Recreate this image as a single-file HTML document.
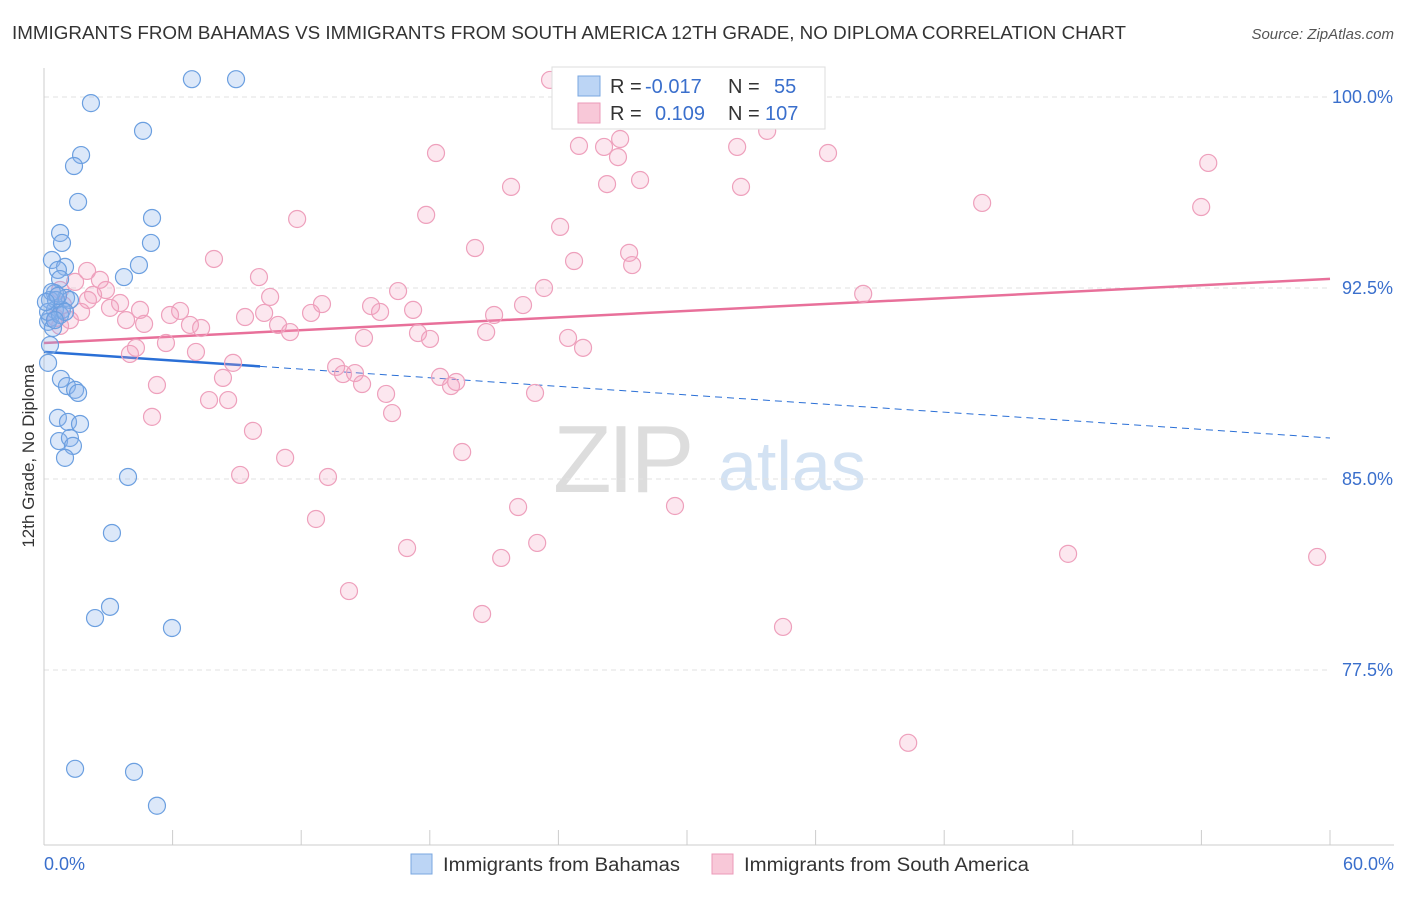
<!DOCTYPE html>
<html><head><meta charset="utf-8"><style>
body{margin:0;background:#fff;font-family:"Liberation Sans",sans-serif;}
svg text{font-family:"Liberation Sans",sans-serif;}
</style></head><body>
<svg id="chart" width="1406" height="892" viewBox="0 0 1406 892" xmlns="http://www.w3.org/2000/svg">
<text x="12" y="39" font-size="18" fill="#333" textLength="1114" lengthAdjust="spacingAndGlyphs">IMMIGRANTS FROM BAHAMAS VS IMMIGRANTS FROM SOUTH AMERICA 12TH GRADE, NO DIPLOMA CORRELATION CHART</text>
<text x="1394" y="39" font-size="15" fill="#555" text-anchor="end" font-style="italic">Source: ZipAtlas.com</text>
<g>
<text x="553" y="492" font-size="96" fill="#ddd" font-family="Liberation Serif" letter-spacing="-4">ZIP</text>
<text x="718" y="490" font-size="70" fill="#d3e2f3">atlas</text>
</g>
<g id="grid"></g>
<g id="axes"></g>
<g id="trends"></g>
<g id="dots"></g>
<text transform="translate(34,456) rotate(-90)" font-size="17" fill="#333" text-anchor="middle">12th Grade, No Diploma</text>
<text x="44" y="870" font-size="18" fill="#3a6fcc">0.0%</text>
<text x="1394" y="870" font-size="18" fill="#3a6fcc" text-anchor="end">60.0%</text>
<g>
<rect x="552" y="67" width="273" height="62" fill="#fff" stroke="#ddd"/>
<rect x="578" y="76" width="22" height="20" fill="#bcd5f5" stroke="#7aa7e0"/>
<rect x="578" y="103" width="22" height="20" fill="#f8c8d8" stroke="#eb9ab8"/>
<text x="610" y="93" font-size="20" fill="#333">R =</text>
<text x="645" y="93" font-size="20" fill="#3a6fcc">-0.017</text>
<text x="728" y="93" font-size="20" fill="#333">N =</text>
<text x="774" y="93" font-size="20" fill="#3a6fcc">55</text>
<text x="610" y="120" font-size="20" fill="#333">R =</text>
<text x="655" y="120" font-size="20" fill="#3a6fcc">0.109</text>
<text x="728" y="120" font-size="20" fill="#333">N =</text>
<text x="765" y="120" font-size="20" fill="#3a6fcc">107</text>
</g>
<g>
<rect x="411" y="854" width="21" height="20" fill="#bcd5f5" stroke="#7aa7e0"/>
<text x="443" y="871" font-size="19" fill="#333" textLength="237" lengthAdjust="spacingAndGlyphs">Immigrants from Bahamas</text>
</g>
<g>
<rect x="712" y="854" width="21" height="20" fill="#f8c8d8" stroke="#eb9ab8"/>
<text x="744" y="871" font-size="19" fill="#333" textLength="285" lengthAdjust="spacingAndGlyphs">Immigrants from South America</text>
</g>
</svg>
<script>
const yTicks=[100,92.5,85,77.5];
const yTickLabels=["100.0%","92.5%","85.0%","77.5%"];
const xTicks=[0,6,12,18,24,30,36,42,48,54,60];
const blueX=[6.9,8.96,2.19,4.62,1.73,1.40,1.59,5.04,0.75,0.84,4.99,4.43,3.73,0.37,0.98,0.65,0.75,0.51,1.03,1.21,0.28,0.51,0.84,0.28,0.19,0.42,0.28,0.19,0.79,1.07,1.45,1.59,0.65,1.12,1.68,0.70,1.21,1.35,0.98,3.92,3.17,3.08,2.38,5.97,1.45,4.20,5.27,0.37,0.56,0.19,0.75,0.65,0.09,0.98,0.51];
const blueY=[100.7,100.7,99.76,98.67,97.72,97.29,95.88,95.25,94.66,94.27,94.27,93.40,92.93,93.60,93.33,93.21,92.85,92.30,92.11,92.03,92.03,91.64,91.64,91.32,91.17,90.93,90.26,89.56,88.93,88.65,88.50,88.38,87.40,87.24,87.16,86.49,86.61,86.30,85.83,85.08,82.88,79.98,79.54,79.15,73.62,73.50,72.17,92.34,92.03,91.56,91.44,92.19,91.95,91.56,91.24];
const pinkX=[23.61,35.28,28.60,31.87,26.88,33.74,24.96,26.13,26.78,32.34,36.58,18.29,54.32,27.81,21.79,26.27,32.52,17.83,11.81,24.08,43.77,53.99,20.11,27.30,24.73,27.44,7.93,10.03,2.01,1.45,2.89,2.29,3.55,10.55,23.33,16.52,38.22,12.97,22.35,6.35,5.88,6.81,7.33,9.38,10.27,12.46,15.26,15.68,17.22,21.00,3.83,4.67,1.21,0.75,10.92,11.48,20.63,14.93,17.45,18.01,24.45,25.15,4.29,4.01,5.69,7.09,8.82,8.35,13.63,13.95,14.51,14.84,18.48,18.99,19.23,15.96,22.91,5.27,7.70,8.59,16.24,5.04,9.75,19.51,11.25,9.15,13.25,29.44,22.12,12.69,16.94,23.01,21.33,47.78,59.40,14.23,20.44,34.48,40.32,2.61,2.05,0.89,3.08,1.73,0.56,4.48,0.75];
const pinkY=[100.67,100.67,99.18,99.21,98.35,98.67,98.08,98.04,97.64,98.04,97.80,97.80,97.41,96.74,96.47,96.58,96.47,95.37,95.21,94.90,95.84,95.68,94.07,93.88,93.56,93.40,93.64,92.93,93.17,92.74,92.42,92.23,91.91,92.15,92.50,92.38,92.27,91.87,91.83,91.60,91.44,91.05,90.93,91.36,91.52,91.52,91.79,91.56,91.64,91.44,91.24,91.09,91.24,91.01,91.05,90.77,90.77,90.54,90.73,90.50,90.54,90.15,90.15,89.91,90.34,89.99,89.56,88.97,89.40,89.12,89.16,88.73,89.01,88.65,88.81,88.34,88.38,88.69,88.10,88.10,87.59,87.44,86.89,86.06,85.83,85.16,85.08,83.94,83.90,83.43,82.29,82.49,81.90,82.06,81.94,80.60,79.70,79.19,74.64,92.82,92.03,91.83,91.72,91.56,91.32,91.64,92.42];
const blueTrend=[89.99,86.61];
const pinkTrend=[90.34,92.86];
const NS="http://www.w3.org/2000/svg";
const X=v=>44+v*(1330-44)/60;
const Y=v=>97+(100-v)*(191/7.5);
function mk(tag,attrs,parent){const e=document.createElementNS(NS,tag);for(const k in attrs)e.setAttribute(k,attrs[k]);document.getElementById(parent).appendChild(e);return e;}
yTicks.forEach((t,i)=>{
 const l=mk('line',{x1:44,x2:1330,y1:Y(t),y2:Y(t),stroke:'#e2e2e2','stroke-dasharray':'5,4'},'grid');
 
 
 const tx=mk('text',{x:1393,y:Y(t)+6,'font-size':18,fill:'#3a6fcc','text-anchor':'end'},'grid');
 tx.textContent=yTickLabels[i];
 
 
});
const ax=mk('line',{x1:44,x2:1394,y1:845,y2:845,stroke:'#ccc'},'axes');


const ay=mk('line',{x1:44,x2:44,y1:68,y2:845,stroke:'#ccc'},'axes');


xTicks.forEach(t=>{
 const l=mk('line',{x1:X(t),x2:X(t),y1:830,y2:845,stroke:'#ccc'},'axes');
 
 
});
const pl=mk('line',{x1:X(0),x2:X(60),y1:Y(pinkTrend[0]),y2:Y(pinkTrend[1]),stroke:'#e8709a','stroke-width':2.5},'trends');


const by=x=>blueTrend[0]+(blueTrend[1]-blueTrend[0])*x/60;
const bs=mk('line',{x1:X(0),x2:X(10.08),y1:Y(by(0)),y2:Y(by(10.08)),stroke:'#2a6fd6','stroke-width':2.5},'trends');


const bd=mk('line',{x1:X(10.08),x2:X(60),y1:Y(by(10.08)),y2:Y(by(60)),stroke:'#2a6fd6','stroke-width':1,'stroke-dasharray':'7,5'},'trends');


pinkX.forEach((x,i)=>{
 const c=mk('circle',{cx:X(x),cy:Y(pinkY[i]),r:8.5,fill:'rgba(244,160,190,0.25)',stroke:'#eea0bc','stroke-width':1.2},'dots');
 
 
});
blueX.forEach((x,i)=>{
 const c=mk('circle',{cx:X(x),cy:Y(blueY[i]),r:8.5,fill:'rgba(140,180,235,0.3)',stroke:'#6b9fe0','stroke-width':1.2},'dots');
 
 
});
</script>
</body></html>
